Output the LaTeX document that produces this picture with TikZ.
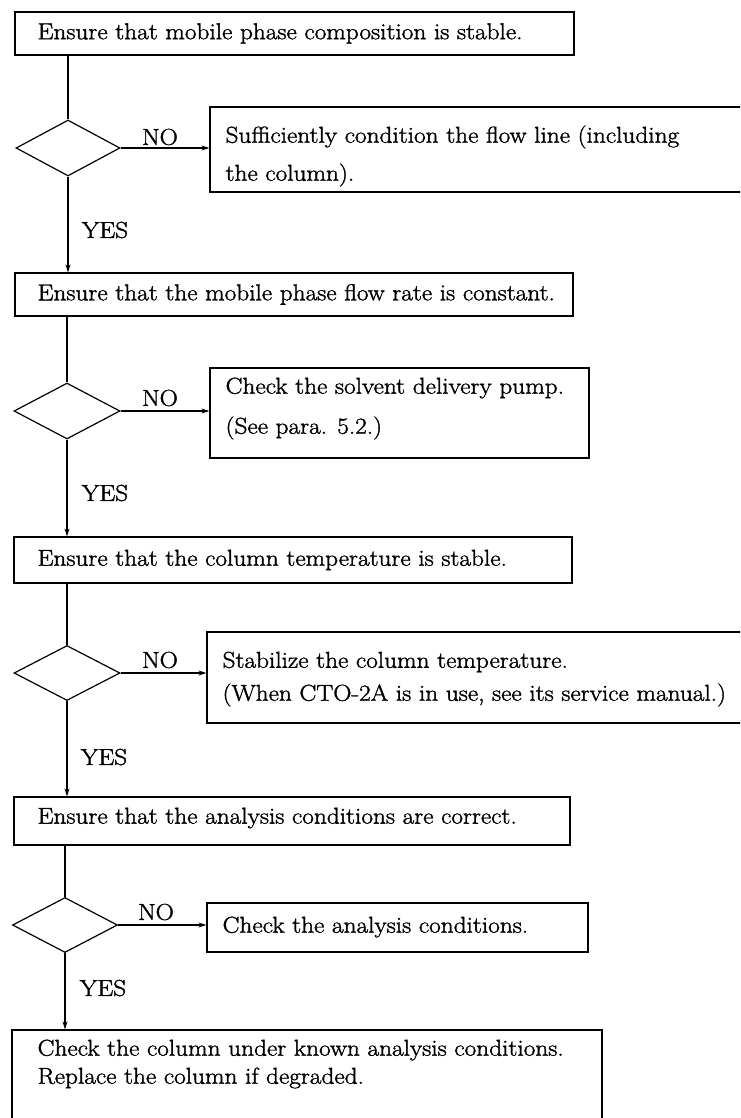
\documentclass[tikz,border=0pt]{standalone}
\usepackage{fontspec}
\setmainfont{Latin Modern Roman}[FakeStretch=1.1,FakeBold=1.5]
\usetikzlibrary{shapes.geometric,arrows.meta}
\begin{document}
\begin{tikzpicture}[x=1pt,y=-1pt,
  line width=1.2pt,
  every node/.style={font=\fontsize{23}{28}\selectfont},
  box/.style={draw,rectangle,inner sep=0pt,line width=1.2pt},
  dec/.style={draw,diamond,inner sep=0pt,line width=1.2pt},
  lbl/.style={inner sep=0pt,anchor=center},
  txt/.style={inner sep=0pt,anchor=west,align=left},
  arr/.style={-{Stealth[length=8pt,width=5pt]}}]
\useasboundingbox (0,0) rectangle (740,1118);
\clip (0,0) rectangle (740,1118);
% main boxes
\node[box,minimum width=559pt,minimum height=43pt] (b1) at (294.5,33.5) {};
\node[txt] (t1) at (37,33.5) {Ensure that mobile phase composition is stable.};
\node[box,minimum width=558pt,minimum height=43pt] (b2) at (294,294.5) {};
\node[txt] (t2) at (37,294.5) {Ensure that the mobile phase flow rate is constant.};
\node[box,minimum width=558pt,minimum height=46pt] (b3) at (293,560) {};
\node[txt] (t3) at (37,560) {Ensure that the column temperature is stable.};
\node[box,minimum width=556pt,minimum height=48pt] (b4) at (292,821) {};
\node[txt] (t4) at (37,818) {Ensure that the analysis conditions are correct.};
\node[box,minimum width=590pt,minimum height=120pt] (b5) at (307,1090) {};
\node[txt] (t5a) at (37,1050) {Check the column under known analysis conditions.};
\node[txt] (t5b) at (37,1078) {Replace the column if degraded.};
% diamonds
\node[dec,minimum width=104pt,minimum height=56pt] (d1) at (68,148) {};
\node[dec,minimum width=106pt,minimum height=56pt] (d2) at (67,411) {};
\node[dec,minimum width=106pt,minimum height=55pt] (d3) at (67,673) {};
\node[dec,minimum width=105pt,minimum height=55pt] (d4) at (65,925) {};
% side boxes
\node[box,minimum width=560pt,minimum height=85pt] (s1) at (490,149.5) {};
\node[txt] (u1a) at (225,137) {Sufficiently condition the flow line (including};
\node[txt] (u1b) at (225,175) {the column).};
\node[box,minimum width=379pt,minimum height=90pt] (s2) at (399.5,413) {};
\node[txt] (u2a) at (225,388) {Check the solvent delivery pump.};
\node[txt] (u2b) at (225,428) {(See para. 5.2.)};
\node[box,minimum width=563pt,minimum height=91pt] (s3) at (488.5,677.5) {};
\node[txt] (u3a) at (222,662) {Stabilize the column temperature.};
\node[txt] (u3b) at (222,695) {(When CTO-2A is in use, see its service manual.)};
\node[box,minimum width=381pt,minimum height=49pt] (s4) at (397.5,927.5) {};
\node[txt] (u4) at (222,927) {Check the analysis conditions.};
% vertical connectors
\draw (b1.south -| d1.north) -- (d1.north);
\draw[arr] (d1.south) -- (d1.south |- b2.north);
\draw (b2.south -| d2.north) -- (d2.north);
\draw[arr] (d2.south) -- (d2.south |- b3.north);
\draw (b3.south -| d3.north) -- (d3.north);
\draw[arr] (d3.south) -- (d3.south |- b4.north);
\draw (b4.south -| d4.north) -- (d4.north);
\draw[arr] (d4.south) -- (d4.south |- b5.north);
% NO connectors
\draw[arr] (d1.east) -- (d1.east -| s1.west);
\draw[arr] (d2.east) -- (d2.east -| s2.west);
\draw[arr] (d3.east) -- (d3.east -| s3.west);
\draw[arr] (d4.east) -- (d4.east -| s4.west);
% labels
\node[lbl] (n1) at (160,137) {NO};
\node[lbl] (n2) at (160,398) {NO};
\node[lbl] (n3) at (160,660) {NO};
\node[lbl] (n4) at (156,912) {NO};
\node[lbl] (y1) at (105,230) {YES};
\node[lbl] (y2) at (105,493) {YES};
\node[lbl] (y3) at (104,757) {YES};
\node[lbl] (y4) at (103,988) {YES};
\end{tikzpicture}
\end{document}
